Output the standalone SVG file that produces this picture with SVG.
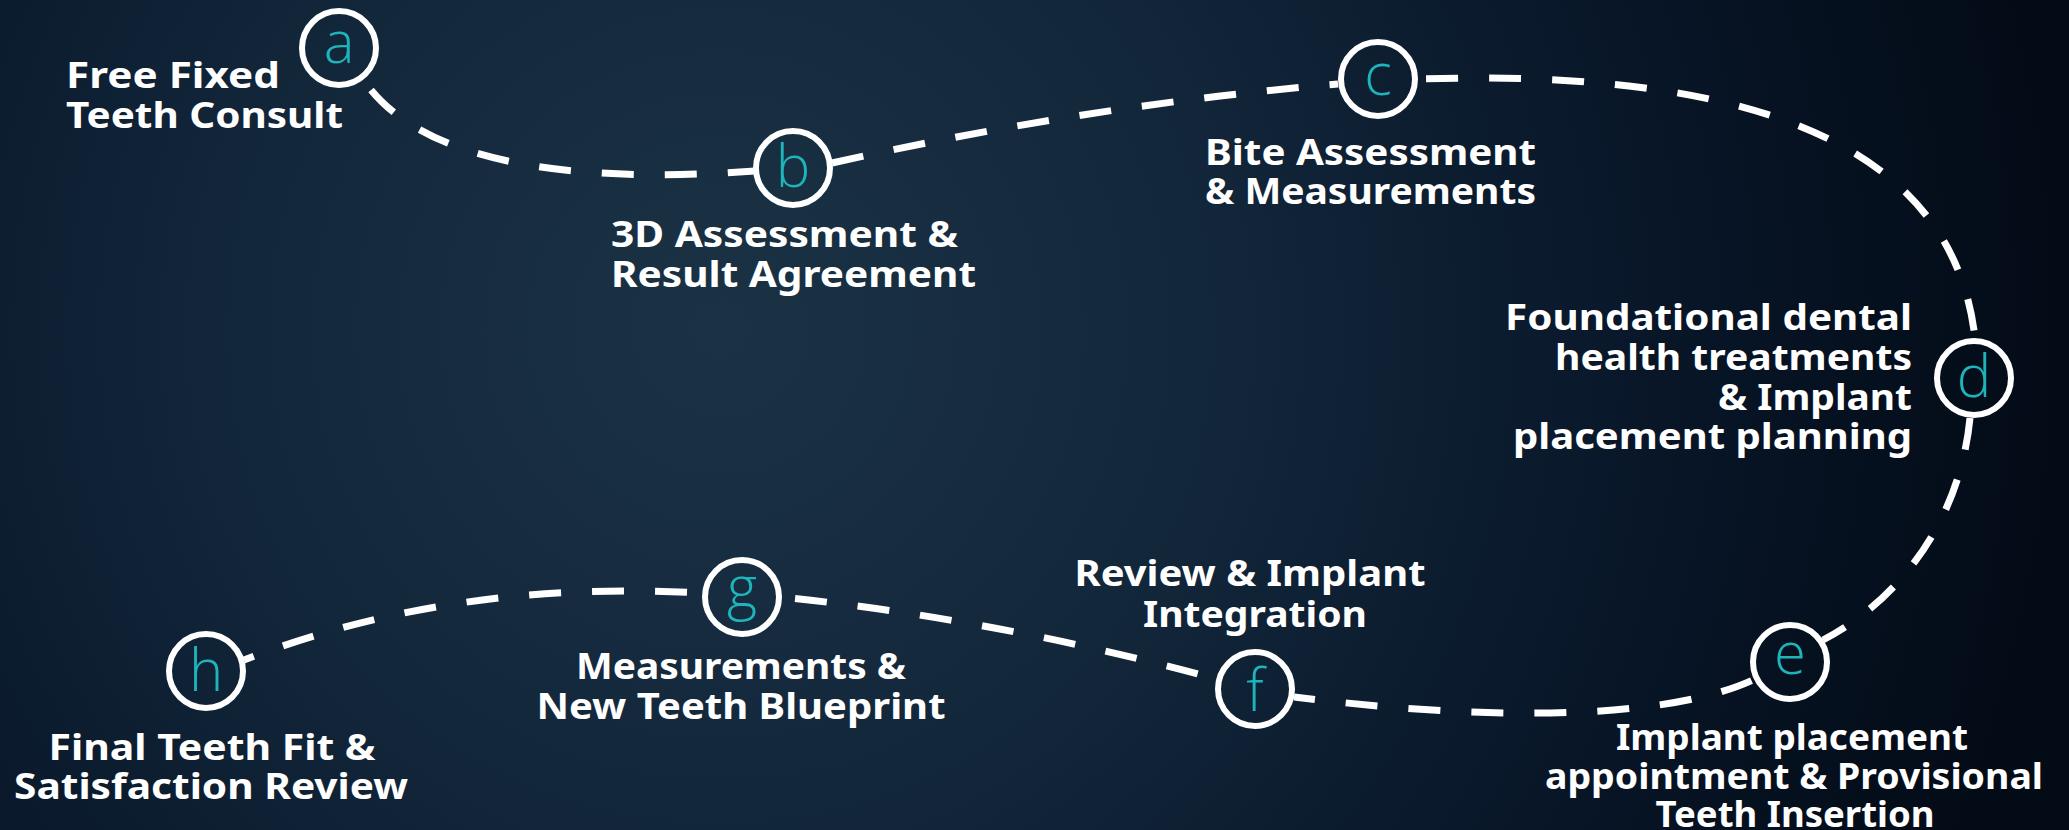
<svg xmlns="http://www.w3.org/2000/svg" width="2069" height="830" viewBox="0 0 2069 830">
<defs>
<radialGradient id="bg" gradientUnits="userSpaceOnUse" cx="720" cy="330" r="1350">
<stop offset="0" stop-color="#1b3245"/>
<stop offset="0.35" stop-color="#13273b"/>
<stop offset="0.7" stop-color="#081628"/>
<stop offset="1" stop-color="#030b16"/>
</radialGradient>
<style>
.lbl{font-family:"Noto Sans","Liberation Sans",sans-serif;font-weight:700;font-size:35px;fill:#ffffff}
.ring{fill:none;stroke:#ffffff;stroke-width:6}
.ltr{font-family:"Open Sans","Noto Sans",sans-serif;font-weight:300;font-size:58px;fill:#1db4ba;text-anchor:middle}
.dash{fill:none;stroke:#ffffff;stroke-width:7;stroke-dasharray:32 31}
</style>
</defs>
<rect width="2069" height="830" fill="url(#bg)"/>
<g id="connectors">
<path class="dash" d="M365,82 C420,160 560,185 755,171" stroke-dashoffset="-10"/>
<path class="dash" d="M832,163 Q1090,105 1338,84"/>
<path class="dash" d="M1418,79 C1700,70 1950,120 1975,338" stroke-dashoffset="-8"/>
<path class="dash" d="M1970,418 C1960,520 1900,600 1823,640"/>
<path class="dash" d="M1755,679 C1680,715 1520,725 1294,697" stroke-dashoffset="-4"/>
<path class="dash" d="M1217,679 Q1000,620 782,597" stroke-dashoffset="-20"/>
<path class="dash" d="M702,593 C550,585 400,600 244,660" stroke-dashoffset="-15"/>
</g>
<g id="node-a">
<circle class="ring" cx="339" cy="48" r="37"/>
<text class="ltr" x="339" y="63">a</text>
<text class="lbl" x="66" y="88" textLength="214" lengthAdjust="spacingAndGlyphs">Free Fixed</text>
<text class="lbl" x="66" y="128" textLength="277" lengthAdjust="spacingAndGlyphs">Teeth Consult</text>
</g>
<g id="node-b">
<circle class="ring" cx="793" cy="168" r="37"/>
<text class="ltr" x="793" y="187">b</text>
<text class="lbl" x="611" y="247" textLength="347" lengthAdjust="spacingAndGlyphs">3D Assessment &amp;</text>
<text class="lbl" x="611" y="287" textLength="365" lengthAdjust="spacingAndGlyphs">Result Agreement</text>
</g>
<g id="node-c">
<circle class="ring" cx="1378" cy="79" r="37"/>
<text class="ltr" x="1378" y="95">c</text>
<text class="lbl" x="1205" y="165" textLength="331" lengthAdjust="spacingAndGlyphs">Bite Assessment</text>
<text class="lbl" x="1205" y="204" textLength="331" lengthAdjust="spacingAndGlyphs">&amp; Measurements</text>
</g>
<g id="node-d">
<circle class="ring" cx="1974" cy="378" r="37"/>
<text class="ltr" x="1974" y="397">d</text>
<text class="lbl" x="1912" y="330" text-anchor="end" textLength="407" lengthAdjust="spacingAndGlyphs">Foundational dental</text>
<text class="lbl" x="1912" y="370" text-anchor="end" textLength="357" lengthAdjust="spacingAndGlyphs">health treatments</text>
<text class="lbl" x="1912" y="410" text-anchor="end" textLength="194" lengthAdjust="spacingAndGlyphs">&amp; Implant</text>
<text class="lbl" x="1912" y="449" text-anchor="end" textLength="399" lengthAdjust="spacingAndGlyphs">placement planning</text>
</g>
<g id="node-e">
<circle class="ring" cx="1790" cy="662" r="37"/>
<text class="ltr" x="1790" y="674">e</text>
<text class="lbl" x="1792" y="750" text-anchor="middle" textLength="352" lengthAdjust="spacingAndGlyphs">Implant placement</text>
<text class="lbl" x="1794" y="789" text-anchor="middle" textLength="498" lengthAdjust="spacingAndGlyphs">appointment &amp; Provisional</text>
<text class="lbl" x="1795" y="827" text-anchor="middle" textLength="279" lengthAdjust="spacingAndGlyphs">Teeth Insertion</text>
</g>
<g id="node-f">
<circle class="ring" cx="1255" cy="689" r="37"/>
<text class="ltr" x="1255" y="711">f</text>
<text class="lbl" x="1250" y="586" text-anchor="middle" textLength="351" lengthAdjust="spacingAndGlyphs">Review &amp; Implant</text>
<text class="lbl" x="1255" y="627" text-anchor="middle" textLength="224" lengthAdjust="spacingAndGlyphs">Integration</text>
</g>
<g id="node-g">
<circle class="ring" cx="742" cy="597" r="37"/>
<text class="ltr" x="742" y="608">g</text>
<text class="lbl" x="741" y="679" text-anchor="middle" textLength="330" lengthAdjust="spacingAndGlyphs">Measurements &amp;</text>
<text class="lbl" x="741" y="719" text-anchor="middle" textLength="409" lengthAdjust="spacingAndGlyphs">New Teeth Blueprint</text>
</g>
<g id="node-h">
<circle class="ring" cx="206" cy="671" r="37"/>
<text class="ltr" x="206" y="691">h</text>
<text class="lbl" x="212" y="760" text-anchor="middle" textLength="327" lengthAdjust="spacingAndGlyphs">Final Teeth Fit &amp;</text>
<text class="lbl" x="211" y="799" text-anchor="middle" textLength="394" lengthAdjust="spacingAndGlyphs">Satisfaction Review</text>
</g>
</svg>
